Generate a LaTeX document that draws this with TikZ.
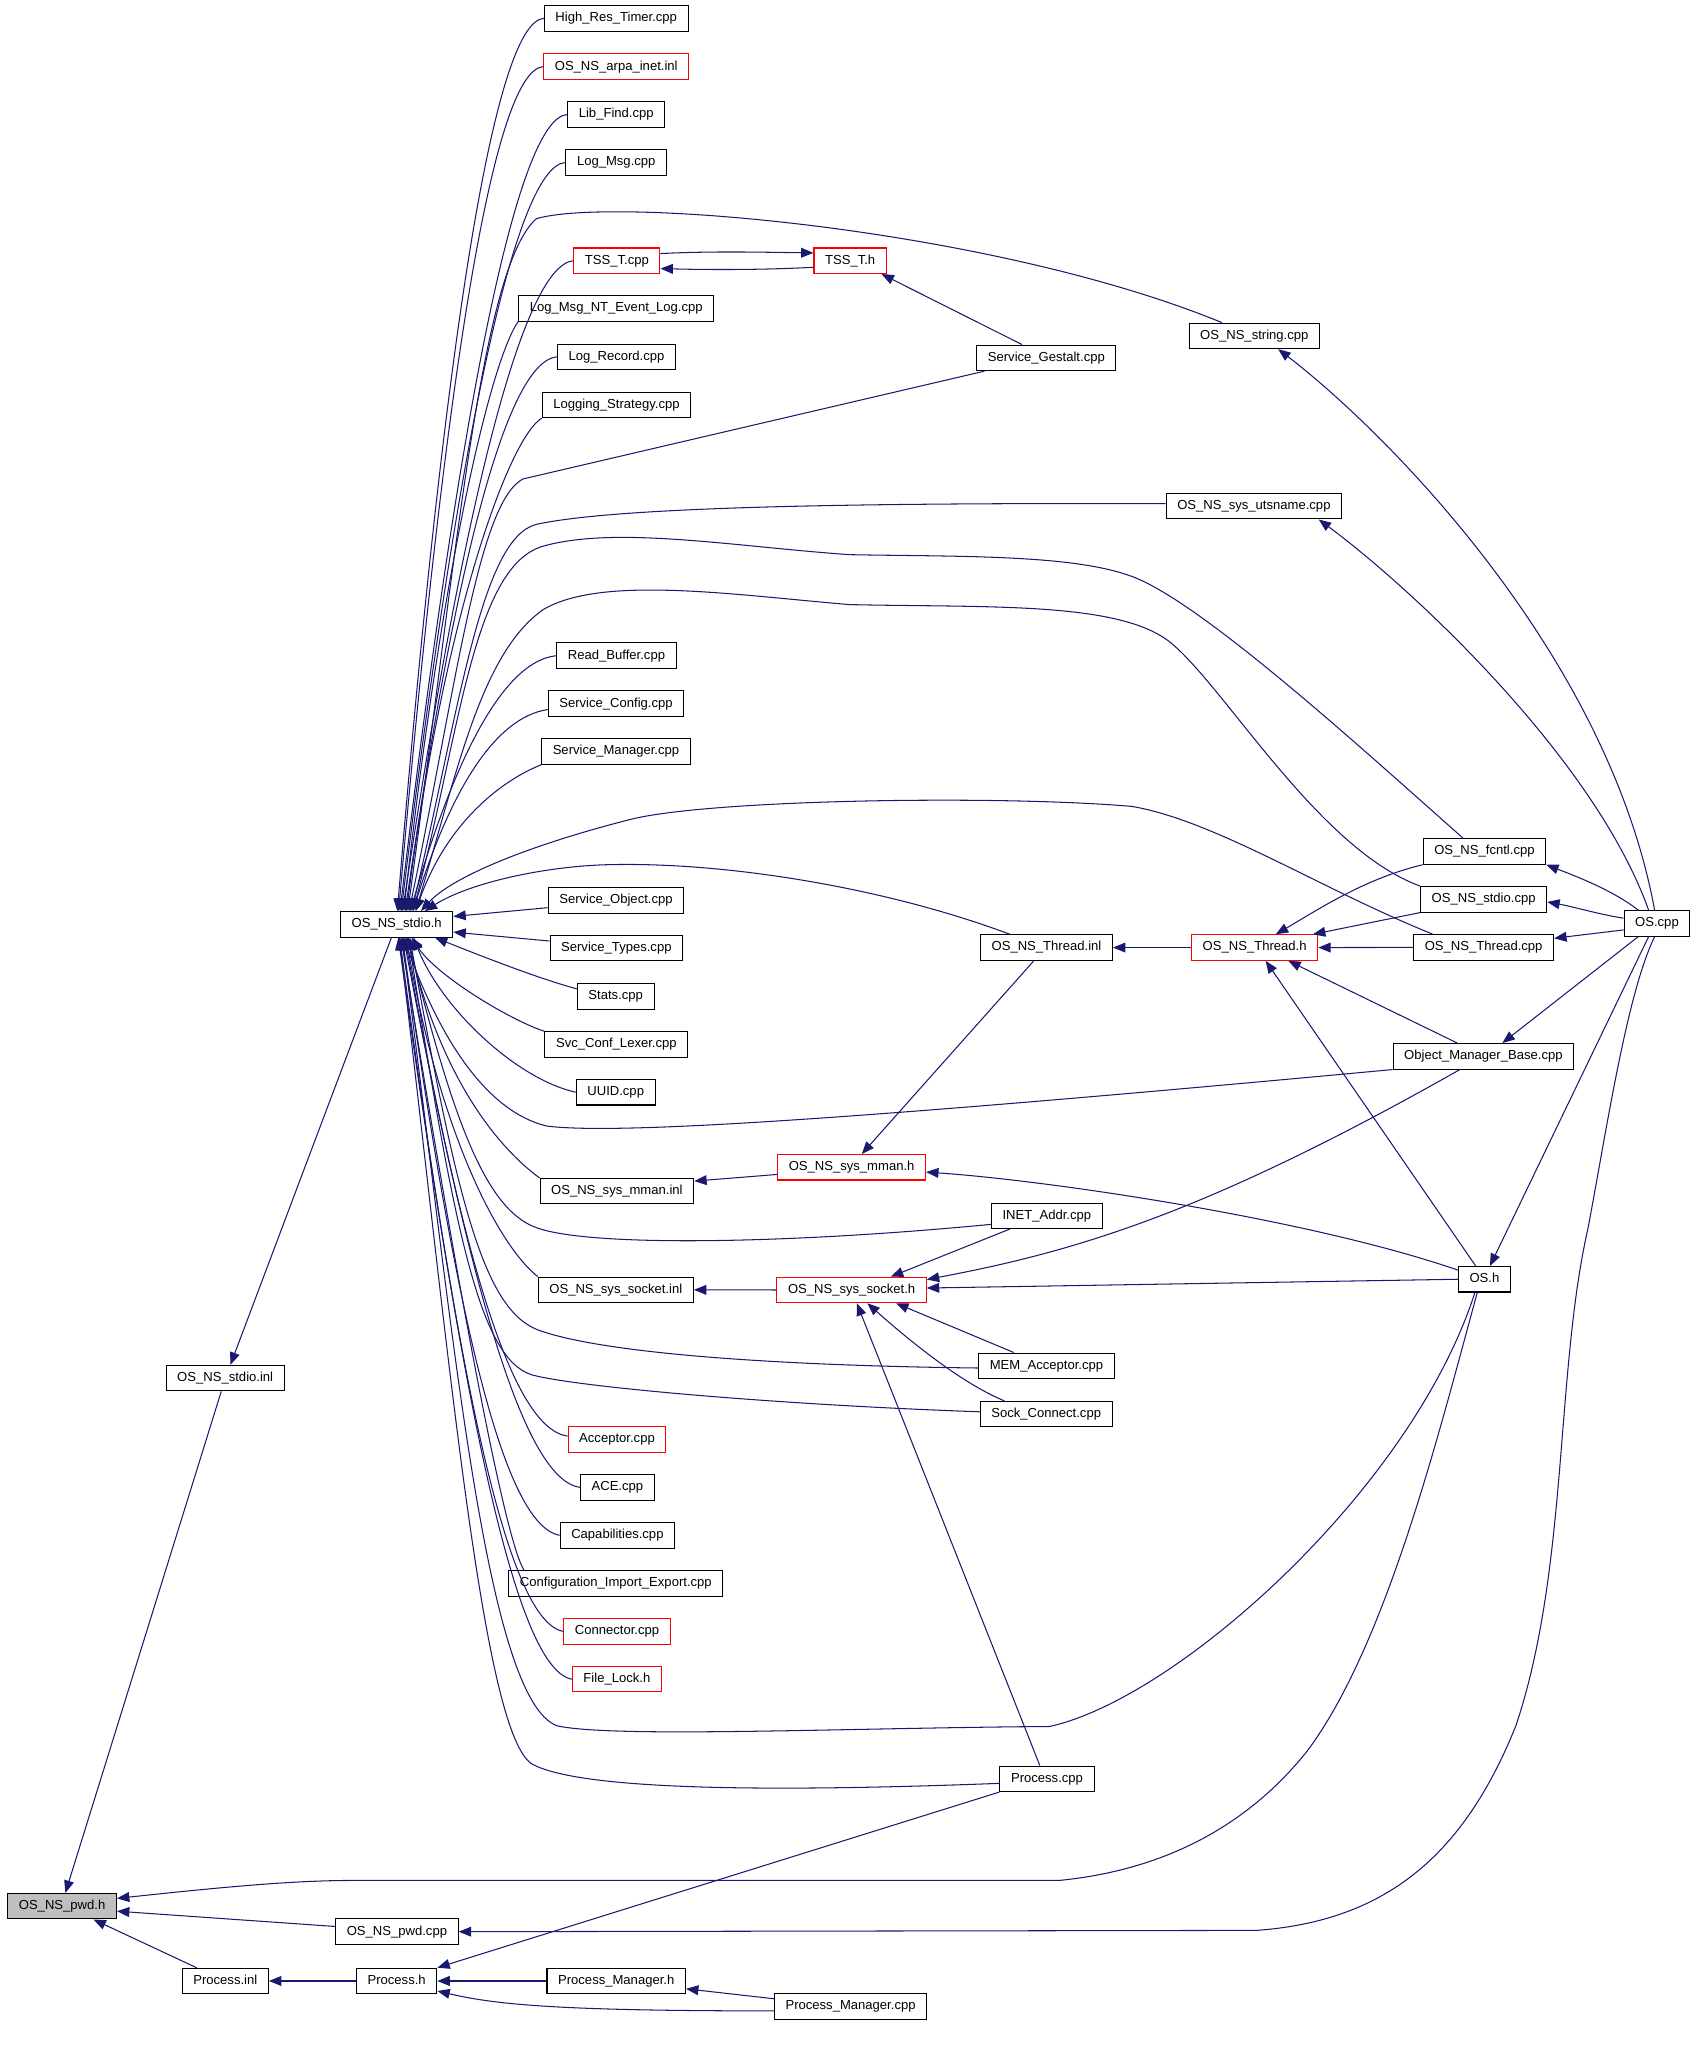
\documentclass[tikz,border=0pt]{standalone}
\usepackage{fontspec}
\setmainfont{Liberation Sans}
\usetikzlibrary{arrows.meta}

\definecolor{edgeblue}{RGB}{25,25,112}
\definecolor{headgray}{RGB}{191,191,191}

\tikzset{
 file/.style={draw=black, line width=0.8pt, inner xsep=8.5pt, inner ysep=0pt,
   minimum height=19.5pt, text height=7.2pt, text depth=2pt,
   font=\fontsize{10}{12}\selectfont},
 redfile/.style={file, draw=red},
 inc/.style={edgeblue, line width=0.8pt, >={Triangle[length=9.5pt,width=7.5pt]}, <-},
}

\begin{document}
\begin{tikzpicture}[x=1pt,y=-1pt]
 \useasboundingbox (0,0) rectangle (1297.7,1567);

% Files that include OS_NS_stdio.h
 \node[file] (hrt) at (471.5,14) {High\_Res\_Timer.cpp};
 \node[redfile] (arpa) at (471.5,51) {OS\_NS\_arpa\_inet.inl};
 \node[file] (libfind) at (471.5,87.6) {Lib\_Find.cpp};
 \node[file] (logmsg) at (471.5,124.3) {Log\_Msg.cpp};
 \node[redfile] (tsscpp) at (472,199.5) {TSS\_T.cpp};
 \node[file] (logmsgnt) at (471.5,236) {Log\_Msg\_NT\_Event\_Log.cpp};
 \node[file] (logrec) at (471.7,273) {Log\_Record.cpp};
 \node[file] (logstrat) at (471.7,309.8) {Logging\_Strategy.cpp};
 \node[file] (readbuf) at (471.7,501.7) {Read\_Buffer.cpp};
 \node[file] (svcconf) at (471.3,538.4) {Service\_Config.cpp};
 \node[file] (svcmgr) at (471.3,575) {Service\_Manager.cpp};
 \node[file] (svcobj) at (471.3,689) {Service\_Object.cpp};
 \node[file] (svctypes) at (471.6,725.5) {Service\_Types.cpp};
 \node[file] (stats) at (471.1,762.4) {Stats.cpp};
 \node[file] (svclexer) at (471.6,799.2) {Svc\_Conf\_Lexer.cpp};
 \node[file] (uuid) at (471.1,835.7) {UUID.cpp};
 \node[file] (mmaninl) at (472,911.4) {OS\_NS\_sys\_mman.inl};
 \node[file] (socketinl) at (471.2,986.9) {OS\_NS\_sys\_socket.inl};
 \node[redfile] (acceptor) at (472.1,1101.3) {Acceptor.cpp};
 \node[file] (ace) at (472.4,1138) {ACE.cpp};
 \node[file] (capab) at (472.4,1174.7) {Capabilities.cpp};
 \node[file] (config) at (471.2,1211.5) {Configuration\_Import\_Export.cpp};
 \node[redfile] (connector) at (472.1,1248.2) {Connector.cpp};
 \node[redfile] (filelock) at (472,1284.8) {File\_Lock.h};

% Headers on the left
 \node[file] (stdio) at (303.5,707.2) {OS\_NS\_stdio.h};
 \node[file] (stdioinl) at (172.3,1054.4) {OS\_NS\_stdio.inl};
 \node[file, fill=headgray] (pwdh) at (47.5,1458.5) {OS\_NS\_pwd.h};
 \node[file] (pwdcpp) at (303.7,1478) {OS\_NS\_pwd.cpp};
 \node[file] (processinl) at (172.4,1515.7) {Process.inl};
 \node[file] (processh) at (303.5,1515.7) {Process.h};
 \node[file] (pmh) at (471.5,1515.7) {Process\_Manager.h};
 \node[file] (pmcpp) at (650.8,1535.3) {Process\_Manager.cpp};

% Middle columns
 \node[redfile] (tssh) at (650.5,199.5) {TSS\_T.h};
 \node[file] (gestalt) at (800.6,273.8) {Service\_Gestalt.cpp};
 \node[file] (stringcpp) at (959.7,257) {OS\_NS\_string.cpp};
 \node[file] (utsname) at (959.4,387.3) {OS\_NS\_sys\_utsname.cpp};
 \node[file] (threadinl) at (800.7,725) {OS\_NS\_Thread.inl};
 \node[redfile] (threadh) at (960,725) {OS\_NS\_Thread.h};
 \node[redfile] (mmanh) at (651.6,893.1) {OS\_NS\_sys\_mman.h};
 \node[redfile] (socketh) at (651.6,987) {OS\_NS\_sys\_socket.h};
 \node[file] (inetaddr) at (801,930.3) {INET\_Addr.cpp};
 \node[file] (memacc) at (800.7,1045) {MEM\_Acceptor.cpp};
 \node[file] (sockconn) at (800.5,1082) {Sock\_Connect.cpp};
 \node[file] (processcpp) at (801.1,1361) {Process.cpp};

% Right columns
 \node[file] (fcntl) at (1135.8,651.5) {OS\_NS\_fcntl.cpp};
 \node[file] (stdiocpp) at (1135.2,688.1) {OS\_NS\_stdio.cpp};
 \node[file] (threadcpp) at (1135.2,724.9) {OS\_NS\_Thread.cpp};
 \node[file] (omb) at (1135,808.2) {Object\_Manager\_Base.cpp};
 \node[file] (osh) at (1135.8,978.8) {OS.h};
 \node[file] (oscpp) at (1267.8,706.5) {OS.cpp};

% OS_NS_stdio.h <- files above it
 \draw[inc] ([xshift=0.5pt]stdio.north) .. controls +(34,-410) and +(-40,3) .. (hrt.west);
 \draw[inc] ([xshift=1.5pt]stdio.north) .. controls +(34,-388) and +(-40,3) .. (arpa.west);
 \draw[inc] ([xshift=2.5pt]stdio.north) .. controls +(44,-366) and +(-40,3) .. (libfind.west);
 \draw[inc] ([xshift=3.5pt]stdio.north) .. controls +(42,-344) and +(-40,3) .. (logmsg.west);
 \draw[inc] ([xshift=4.5pt]stdio.north) .. controls +(45,-299) and +(-40,4) .. (tsscpp.west);
 \draw[inc] ([xshift=5.5pt]stdio.north) .. controls +(30,-270) and +(-20,28) .. (logmsgnt.south west);
 \draw[inc] ([xshift=6.5pt]stdio.north) .. controls +(37,-255) and +(-40,4) .. (logrec.west);
 \draw[inc] ([xshift=7.5pt]stdio.north) .. controls +(29,-227) and +(-25,15) .. (logstrat.south west);
 \draw[inc] ([xshift=10.5pt]stdio.north) .. controls +(34,-118) and +(-40,4) .. (readbuf.west);
 \draw[inc] ([xshift=12.5pt]stdio.north) .. controls +(29,-93) and +(-40,6) .. ([yshift=-4.5pt]svcconf.west);
 \draw[inc] ([xshift=14.5pt]stdio.north) .. controls +(24,-68) and +(-30,12) .. (svcmgr.south west);
 \draw[inc] ([yshift=6pt]stdio.east) -- ([yshift=-5.5pt]svcobj.west);
 \draw[inc] ([yshift=-6pt]stdio.east) -- ([yshift=5.5pt]svctypes.west);

% OS_NS_stdio.h <- files below it
 \draw[inc] ([xshift=29.3pt]stdio.south) .. controls +(30,12) and +(-30,-8) .. ([yshift=5.8pt]stats.west);
 \draw[inc] ([xshift=11.3pt]stdio.south) .. controls +(20,30) and +(-25,-8) .. (svclexer.north west);
 \draw[inc] ([xshift=12.8pt]stdio.south) .. controls +(22,55) and +(-45,-10) .. (uuid.west);
 \draw[inc] ([xshift=8.3pt]stdio.south) .. controls +(27,111) and +(-30,-22) .. (mmaninl.north west);
 \draw[inc] ([xshift=7.3pt]stdio.south) .. controls +(27,156) and +(-28,-22) .. (socketinl.north west);
 \draw[inc] ([xshift=6.3pt]stdio.south) .. controls +(41,229) and +(-45,-6) .. ([yshift=2.5pt]acceptor.west);
 \draw[inc] ([xshift=5.3pt]stdio.south) .. controls +(48,253) and +(-45,-6) .. (ace.west);
 \draw[inc] ([xshift=4.3pt]stdio.south) .. controls +(39,275) and +(-45,-8) .. (capab.west);
 \draw[inc] ([xshift=3.3pt]stdio.south) .. controls +(47,291) and +(-14,-22) .. ([xshift=12pt]config.north west);
 \draw[inc] ([xshift=2.3pt]stdio.south) .. controls +(42,319) and +(-45,-8) .. (connector.west);
 \draw[inc] ([xshift=1.3pt]stdio.south) .. controls +(47,341) and +(-45,-8) .. (filelock.west);

% OS_NS_stdio.h <- files further right (long bends)
 \draw[inc] ([xshift=8.5pt]stdio.north) .. controls (350,420) and (368,205) .. (410.4,167.3)
   .. controls (470,150) and (760,175) .. ([xshift=-24.7pt]stringcpp.north);
 \draw[inc] ([xshift=9.5pt]stdio.north) .. controls (350,520) and (366,385) .. (400,366.5)
   -- ([xshift=6.4pt]gestalt.south west);
 \draw[inc] ([xshift=11.5pt]stdio.north) .. controls (352,540) and (368,412) .. (410.4,401.2)
   .. controls (480,386) and (700,385) .. ([yshift=2pt]utsname.west);
 \draw[inc] ([xshift=12.5pt]stdio.north) .. controls (352,560) and (362,435) .. (414.5,418.2)
   .. controls (470,402) and (560,418) .. (650,424.4)
   .. controls (740,426) and (830,424) .. (872.9,443.9)
   .. controls (930,470) and (1050,580) .. ([xshift=-16.3pt]fcntl.north);
 \draw[inc] ([xshift=14.5pt]stdio.north) .. controls (350,590) and (368,500) .. (415.5,466.5)
   .. controls (460,440) and (560,455) .. (650,462.6)
   .. controls (760,465) and (860,460) .. (897.6,493.3)
   .. controls (940,530) and (1010,650) .. (stdiocpp.north west);
 \draw[inc] ([xshift=18.5pt]stdio.north) .. controls (345,672) and (400,648) .. (481.8,627.1)
   .. controls (540,612) and (760,608) .. (866,617)
   .. controls (930,628) and (1010,680) .. ([xshift=-39pt]threadcpp.north);
 \draw[inc] ([xshift=21.5pt]stdio.north) .. controls (360,675) and (420,662) .. (470.3,661.5)
   .. controls (560,660) and (680,680) .. ([xshift=-28pt]threadinl.north);
 \draw[inc] ([xshift=5.3pt]stdio.south) .. controls (335,790) and (370,850) .. (418.5,861.6)
   .. controls (470,868) and (640,858) .. (omb.south west);
 \draw[inc] ([xshift=8.3pt]stdio.south) .. controls (345,850) and (370,925) .. (410.4,939.3)
   .. controls (450,954) and (600,952) .. ([yshift=-6.5pt]inetaddr.west);
 \draw[inc] ([xshift=10pt]stdio.south) .. controls (350,920) and (370,1000) .. (410.4,1017.1)
   .. controls (460,1036) and (600,1045) .. ([yshift=-1.7pt]memacc.west);
 \draw[inc] ([xshift=9pt]stdio.south) .. controls (350,960) and (370,1045) .. (410.4,1052.8)
   .. controls (450,1062) and (600,1075) .. ([yshift=1.8pt]sockconn.west);
 \draw[inc] ([xshift=4pt]stdio.south) .. controls (345,1000) and (370,1300) .. (426.3,1320.5)
   .. controls (470,1330) and (650,1322) .. (802.9,1321)
   .. controls (900,1300) and (1080,1140) .. ([xshift=-7.3pt]osh.south);
 \draw[inc] ([xshift=2pt]stdio.south) .. controls (345,1050) and (370,1330) .. (407.8,1350.1)
   .. controls (450,1372) and (620,1370) .. ([yshift=-3.5pt]processcpp.west);

% OS_NS_stdio.inl and OS_NS_pwd.h
 \draw[inc] ([xshift=4pt]stdioinl.north) -- ([xshift=-4pt]stdio.south);
 \draw[inc] ([xshift=2.5pt]pwdh.north) -- ([xshift=-3pt]stdioinl.south);
 \draw[inc] ([yshift=-3.8pt]pwdh.east) -- ([yshift=4pt]pwdcpp.west);
 \draw[inc] ([xshift=24pt]pwdh.south) -- ([xshift=-22pt]processinl.north);
 \draw[inc] ([yshift=6pt]pwdh.east) .. controls (160,1445) and (220,1438.8) .. (268.8,1438.8)
   -- (810.2,1438.8) .. controls (900,1430) and (960,1390) .. (1000,1340)
   .. controls (1060,1260) and (1100,1100) .. ([xshift=-5.5pt]osh.south);
 \draw[inc] (pwdcpp.east) -- (961.2,1477) .. controls (1060,1470) and (1120,1420) .. (1160,1320)
   .. controls (1200,1200) and (1190,1050) .. (1215,940)
   .. controls (1230,860) and (1245,760) .. ([xshift=-1.8pt]oscpp.south);

% Process files
 \draw[inc] (processinl.east) -- (processh.west);
 \draw[inc] (processh.east) -- (pmh.west);
 \draw[inc] (processh.north east) -- (processcpp.south west);
 \draw[inc] ([yshift=2.5pt]processh.south east) .. controls (380,1534) and (430,1538.6) .. ([yshift=-3.3pt]pmcpp.west);
 \draw[inc] ([yshift=-6pt]pmh.east) -- ([yshift=6pt]pmcpp.west);

% TSS_T
 \draw[inc] ([yshift=6pt]tssh.west) .. controls (585,193) and (545,192) .. ([yshift=5.5pt]tsscpp.east);
 \draw[inc] ([yshift=-6pt]tsscpp.east) .. controls (545,206.5) and (585,206.5) .. ([yshift=-5pt]tssh.west);
 \draw[inc] ([xshift=24pt]tssh.south) -- ([xshift=-18.6pt]gestalt.north);

% OS.cpp
 \draw[inc] ([xshift=18.3pt]stringcpp.south) .. controls (1060,330) and (1230,500) .. ([xshift=-1.8pt]oscpp.north);
 \draw[inc] ([xshift=49.6pt]utsname.south) .. controls (1080,450) and (1220,580) .. ([xshift=-6.4pt]oscpp.north);
 \draw[inc] (fcntl.south east) .. controls (1210,672) and (1235,682) .. ([xshift=-14.3pt]oscpp.north);
 \draw[inc] ([yshift=-2pt]stdiocpp.east) .. controls (1205,694) and (1225,700) .. ([yshift=4pt]oscpp.west);
 \draw[inc] ([yshift=7pt]threadcpp.east) -- ([yshift=-5pt]oscpp.west);
 \draw[inc] ([xshift=14.5pt]omb.north) -- ([xshift=-14.3pt]oscpp.south);
 \draw[inc] ([xshift=4.2pt]osh.north) -- ([xshift=-6.4pt]oscpp.south);

% OS_NS_Thread.h
 \draw[inc] ([xshift=16.2pt]threadh.north) .. controls (1010,695) and (1045,672) .. (fcntl.south west);
 \draw[inc] ([xshift=44.6pt]threadh.north) -- (stdiocpp.south west);
 \draw[inc] (threadh.east) -- (threadcpp.west);
 \draw[inc] ([xshift=25.7pt]threadh.south) -- ([xshift=-20pt]omb.north);
 \draw[inc] ([xshift=8.4pt]threadh.south) -- ([xshift=-6.7pt]osh.north);
 \draw[inc] (threadinl.east) -- (threadh.west);

% OS_NS_sys_mman
 \draw[inc] ([xshift=7.8pt]mmanh.north) -- ([xshift=-9.7pt]threadinl.south);
 \draw[inc] ([yshift=-3.7pt]mmanh.east) .. controls (800,903) and (1000,932) .. ([yshift=7pt]osh.west);
 \draw[inc] ([yshift=7.7pt]mmaninl.east) -- ([yshift=-5.5pt]mmanh.west);

% OS_NS_sys_socket
 \draw[inc] (socketinl.east) -- (socketh.west);
 \draw[inc] ([xshift=30pt]socketh.north) -- ([xshift=-28.5pt]inetaddr.south);
 \draw[inc] ([yshift=8pt]socketh.east) .. controls (820,958) and (920,930) .. ([xshift=-18pt]omb.south);
 \draw[inc] ([yshift=1.5pt]socketh.east) -- (osh.west);
 \draw[inc] ([xshift=34pt]socketh.south) -- ([xshift=-25pt]memacc.north);
 \draw[inc] ([xshift=12pt]socketh.south) .. controls (695,1025) and (735,1058) .. ([xshift=-32pt]sockconn.north);
 \draw[inc] ([xshift=4pt]socketh.south) -- ([xshift=-5.5pt]processcpp.north);

\end{tikzpicture}
\end{document}
